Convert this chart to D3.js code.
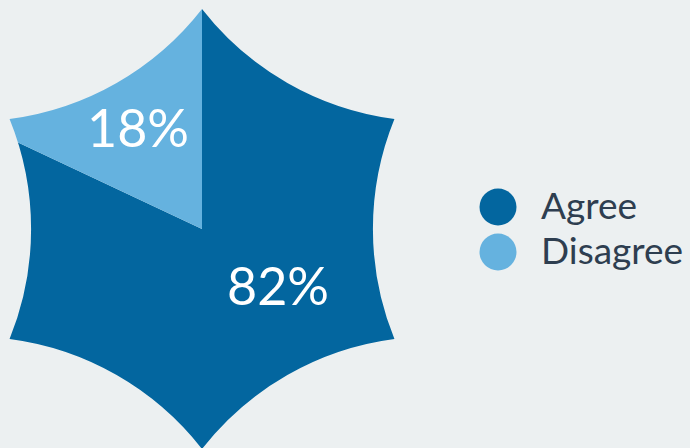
<!DOCTYPE html>
<html><head><meta charset="utf-8">
<script src="https://cdn.jsdelivr.net/npm/d3@7"></script>
<style>
html,body{margin:0;padding:0;background:#ecf0f1;}
svg{display:block;font-family:Lato,"Open Sans",sans-serif;}
</style></head>
<body><svg id="c" width="690" height="448"></svg>
<script>
const categories = ["Agree", "Disagree"];
const values = [82, 18];
const labels = ["82%", "18%"];
const colors = ["#03669f", "#65b2df"];

const svg = d3.select("#c");
const cx = 202, cy = 229, R = 220, edgeR = 292;

// star (concave hexagon) path
const verts = d3.range(6).map(k => {
  const a = k * Math.PI / 3;
  return [cx + R * Math.sin(a) * 1.01, cy - R * Math.cos(a)];
});
let d = `M${verts[0][0]},${verts[0][1]}`;
for (let k = 1; k <= 6; k++) {
  const v = verts[k % 6];
  d += ` A${edgeR},${edgeR} 0 0 0 ${v[0]},${v[1]}`;
}
d += "Z";

svg.append("defs").append("clipPath").attr("id", "star")
  .append("path").attr("d", d);

const pie = d3.pie().sort(null).value(v => v)
  .startAngle(0).endAngle(2 * Math.PI);
const arcs = pie(values);
const arc = d3.arc().innerRadius(0).outerRadius(R + 40);

const g = svg.append("g").attr("clip-path", "url(#star)");
g.selectAll("path.slice").data(arcs).join("path")
  .attr("class", "slice")
  .attr("transform", `translate(${cx},${cy})`)
  .attr("d", arc)
  .attr("fill", (dd, i) => colors[i]);

// labels
const labelPos = [[278, 305], [138, 147]];
svg.selectAll("text.lbl").data(arcs).join("text")
  .attr("class", "lbl")
  .attr("x", (dd, i) => labelPos[i][0])
  .attr("y", (dd, i) => labelPos[i][1])
  .attr("text-anchor", "middle")
  .attr("fill", "#ffffff")
  .attr("font-size", 52)
  .text((dd, i) => labels[i]);

// legend
const lg = svg.append("g");
categories.forEach((c, i) => {
  const y = 207 + i * 45;
  lg.append("circle").attr("cx", 498).attr("cy", y).attr("r", 18.5).attr("fill", colors[i]);
  lg.append("text").attr("x", 541).attr("y", y + 12)
    .attr("font-size", 37).attr("fill", "#2e3e50").text(c);
});
</script></body></html>
